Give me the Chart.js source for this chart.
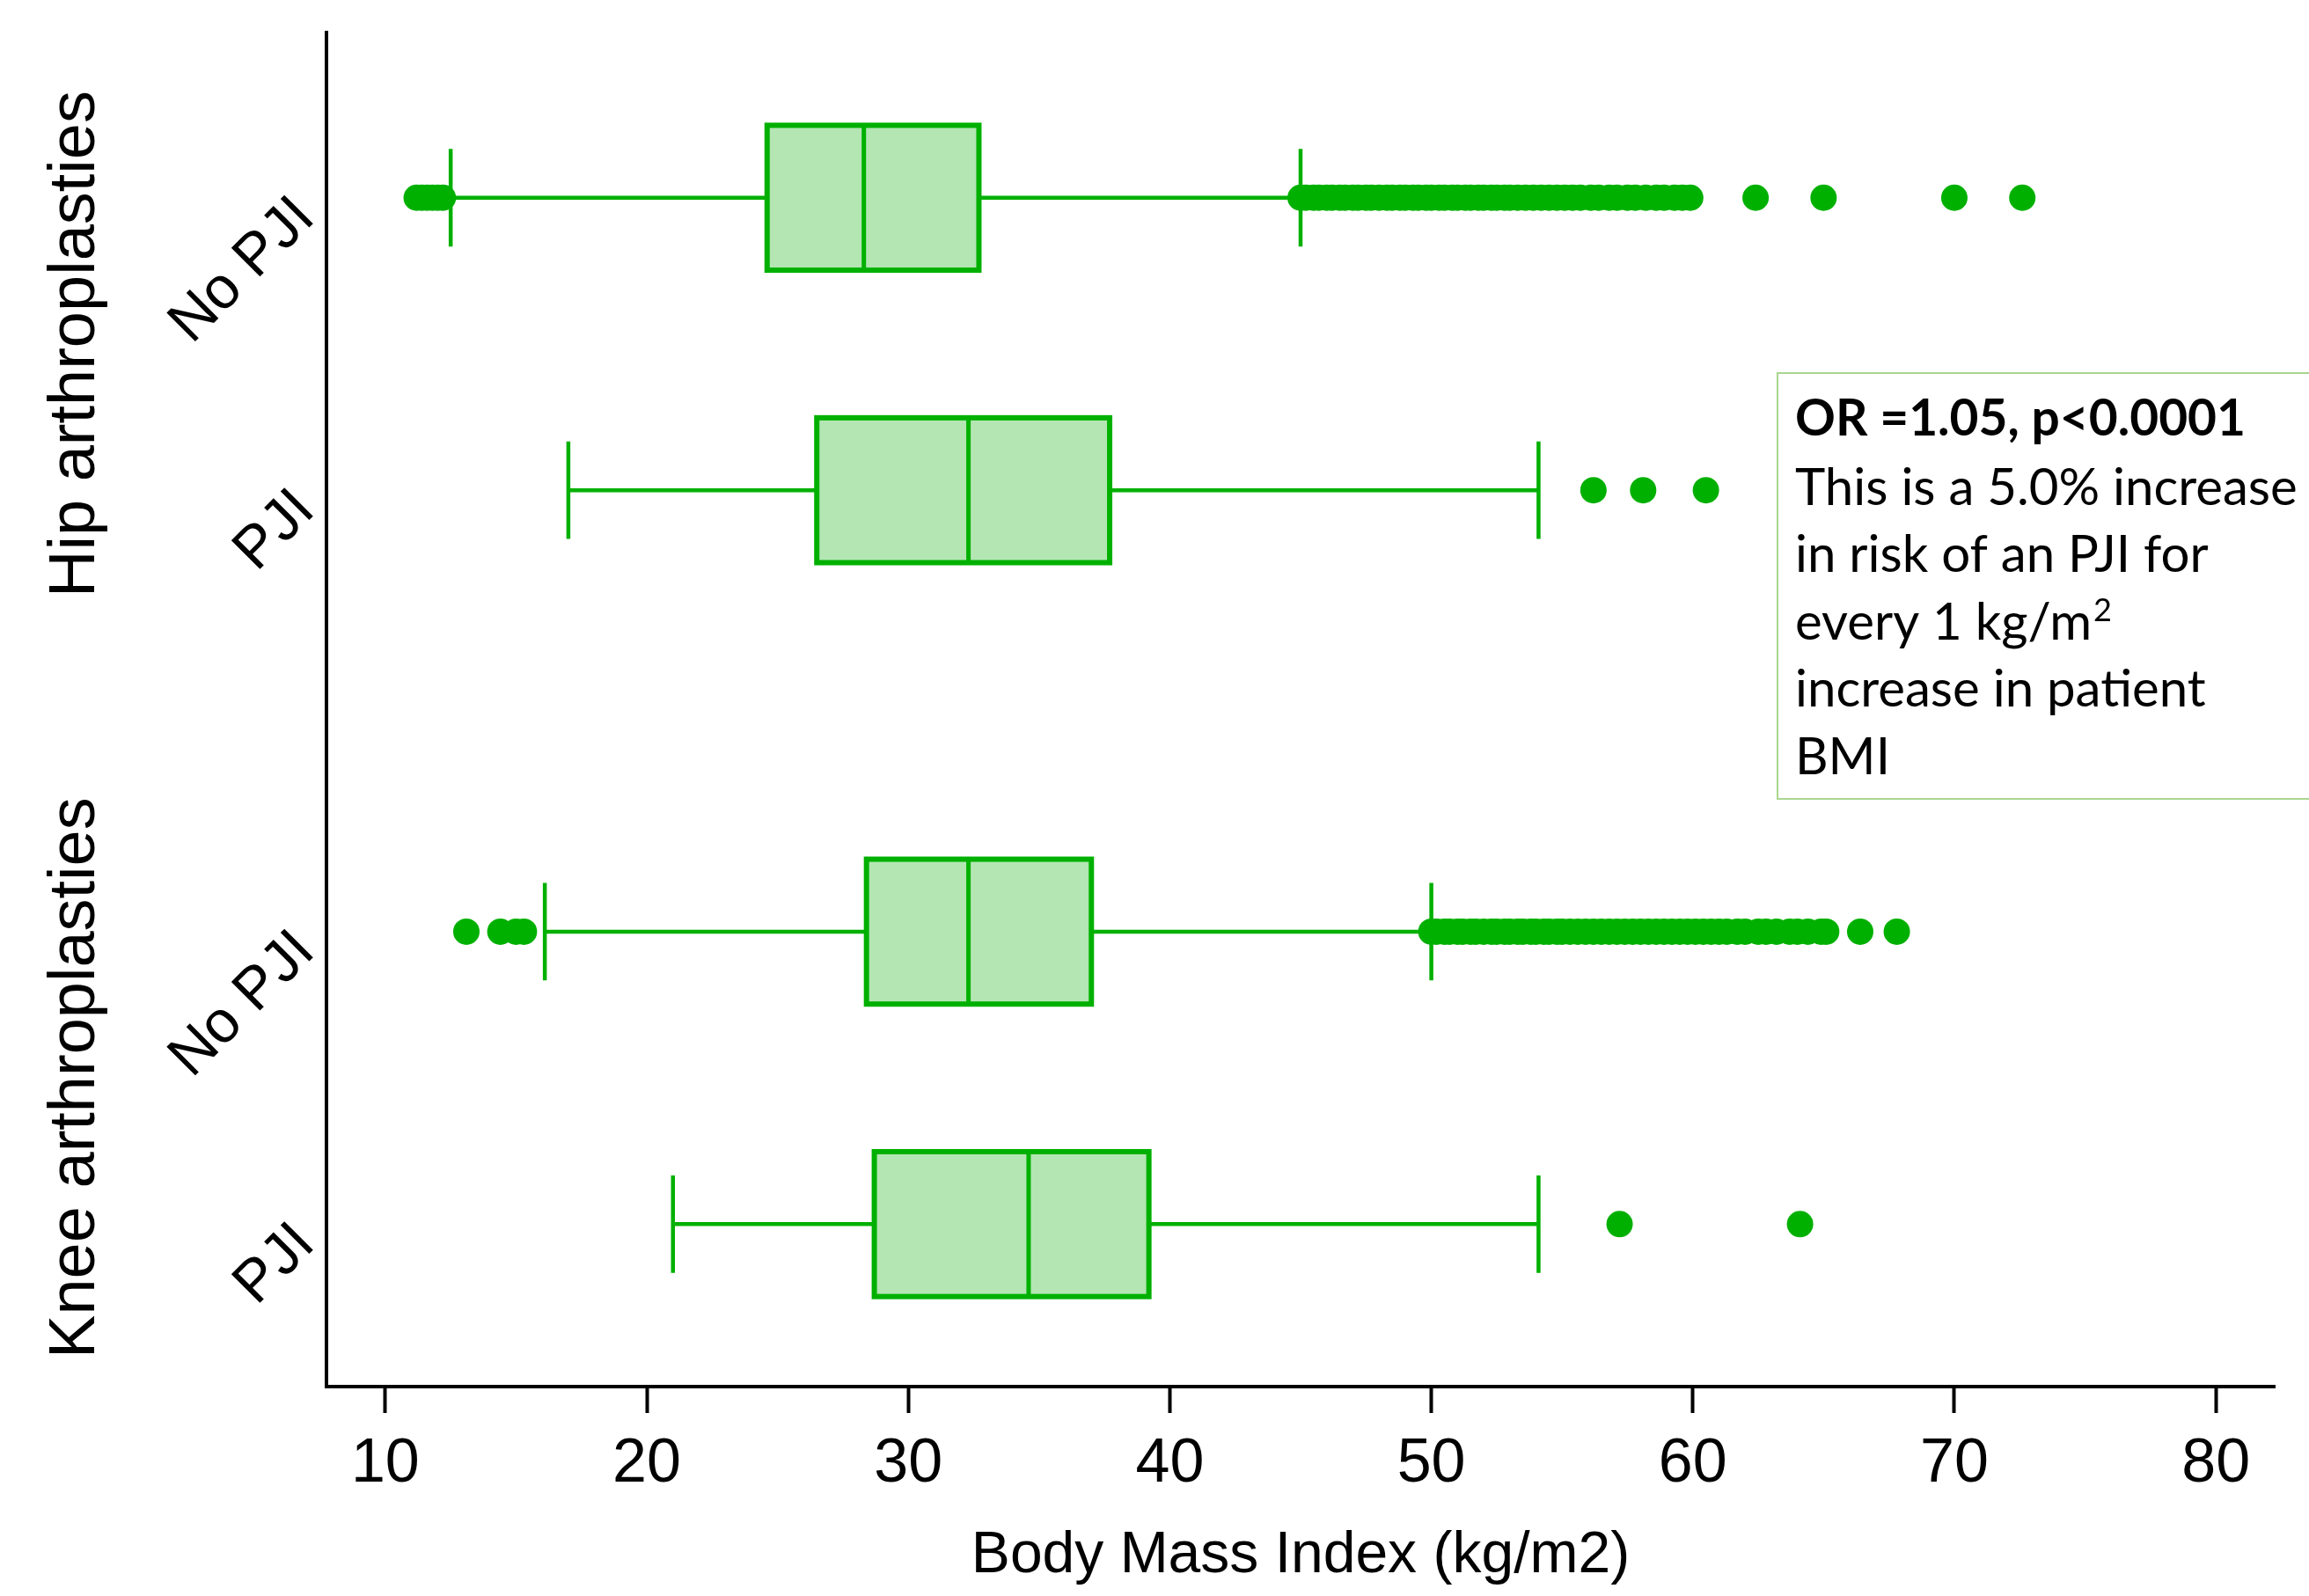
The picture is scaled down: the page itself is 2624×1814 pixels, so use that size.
<!DOCTYPE html>
<html>
<head>
<meta charset="utf-8">
<title>BMI by PJI status</title>
<script src="https://cdn.jsdelivr.net/npm/chart.js@4.4.1/dist/chart.umd.min.js"></script>
<style>
  html, body { margin: 0; padding: 0; background: #fff; }
  #wrap { width: 2624px; height: 1814px; }
</style>
</head>
<body>
<div id="wrap"><canvas id="bmiChart" width="2624" height="1814"></canvas></div>
<script>
// ---- data (BMI, kg/m2) ----
const groupLabels = ['Hip arthroplasties', 'Knee arthroplasties'];
const categories = ['No PJI', 'PJI', 'No PJI', 'PJI'];
const groupOf = [0, 0, 1, 1];

const lowerWhisker = [12.5, 17.0, 16.1, 21.0];
const quartile1 = [24.6, 26.5, 28.4, 28.7];
const medians = [28.3, 32.3, 32.3, 34.6];
const quartile3 = [32.7, 37.7, 37.0, 39.2];
const upperWhisker = [45.0, 54.1, 50.0, 54.1];

const outliersHipNoPJI = [11.2, 11.4, 11.6, 11.8, 12.0, 12.2,
  45.0, 45.2, 45.5, 45.7, 46.0, 46.2, 46.5, 46.7, 47.0, 47.2, 47.5, 47.7,
  48.0, 48.3, 48.5, 48.8, 49.0, 49.3, 49.5, 49.8, 50.0, 50.3, 50.5, 50.8,
  51.0, 51.3, 51.5, 51.8, 52.0, 52.3, 52.5, 52.8, 53.0, 53.3, 53.6, 53.9,
  54.2, 54.5, 54.8, 55.1, 55.4, 55.7, 56.1, 56.4, 56.8, 57.1, 57.5, 57.8,
  58.2, 58.6, 58.9, 59.3, 59.6, 59.9,
  62.4, 65.0, 70.0, 72.6];
const outliersHipPJI = [56.2, 58.1, 60.5];
const outliersKneeNoPJI = [13.1, 14.4, 15.0, 15.3,
  50.0, 50.2, 50.5, 50.7, 51.0, 51.2, 51.5, 51.7, 52.0, 52.3, 52.5, 52.8,
  53.0, 53.3, 53.5, 53.8, 54.0, 54.3, 54.5, 54.8, 55.0, 55.3, 55.6, 55.9,
  56.2, 56.5, 56.8, 57.1, 57.4, 57.7, 58.0, 58.3, 58.6, 58.9, 59.2, 59.5,
  59.8, 60.1, 60.4, 60.7, 61.0, 61.3, 61.7, 62.0, 62.5, 62.8, 63.2, 63.7,
  64.0, 64.4, 64.9, 65.1,
  66.4, 67.8];
const outliersKneePJI = [57.2, 64.1];
const outliers = [outliersHipNoPJI, outliersHipPJI, outliersKneeNoPJI, outliersKneePJI];

const xTicks = [10, 20, 30, 40, 50, 60, 70, 80];

const noteTitle = 'OR =1.05, p<0.0001';
const noteLines = ['This is a 5.0% increase', 'in risk of an PJI for', 'every 1 kg/m', 'increase in patient', 'BMI'];

// ---- layout / style ----
const rowPos = [1.22, 3.38, 6.64, 8.8];   // rows on the hidden y scale (0..10)
const boxHalf = 0.535;
const capHalf = 0.36;
const lineGreen = '#00b000';
const fillGreen = '#b3e6b3';
const axisFont = 'Liberation Sans, Arial, sans-serif';

const points = [];
outliers.forEach((list, i) => {
  list.forEach(v => points.push({ x: v, y: rowPos[i] }));
});

const boxPlotPlugin = {
  id: 'boxPlot',
  beforeDatasetsDraw(chart) {
    const { ctx, scales: { x, y } } = chart;
    ctx.save();
    ctx.strokeStyle = lineGreen;
    categories.forEach((c, i) => {
      const yc = y.getPixelForValue(rowPos[i]);
      const hb = Math.abs(y.getPixelForValue(rowPos[i] + boxHalf) - yc);
      const hc = Math.abs(y.getPixelForValue(rowPos[i] + capHalf) - yc);
      const xlw = x.getPixelForValue(lowerWhisker[i]);
      const xq1 = x.getPixelForValue(quartile1[i]);
      const xmd = x.getPixelForValue(medians[i]);
      const xq3 = x.getPixelForValue(quartile3[i]);
      const xuw = x.getPixelForValue(upperWhisker[i]);

      // whiskers + caps
      ctx.lineWidth = 4.5;
      ctx.beginPath();
      ctx.moveTo(xlw, yc); ctx.lineTo(xq1, yc);
      ctx.moveTo(xq3, yc); ctx.lineTo(xuw, yc);
      ctx.moveTo(xlw, yc - hc); ctx.lineTo(xlw, yc + hc);
      ctx.moveTo(xuw, yc - hc); ctx.lineTo(xuw, yc + hc);
      ctx.stroke();

      // box
      ctx.fillStyle = fillGreen;
      ctx.fillRect(xq1, yc - hb, xq3 - xq1, 2 * hb);
      ctx.lineWidth = 6;
      ctx.strokeRect(xq1, yc - hb, xq3 - xq1, 2 * hb);

      // median
      ctx.lineWidth = 5;
      ctx.beginPath();
      ctx.moveTo(xmd, yc - hb); ctx.lineTo(xmd, yc + hb);
      ctx.stroke();
    });
    ctx.restore();
  }
};

const labelsPlugin = {
  id: 'sideLabels',
  afterDraw(chart) {
    const { ctx, chartArea, scales: { y } } = chart;
    ctx.save();
    ctx.fillStyle = '#000';

    // rotated category labels
    ctx.font = '67px ' + axisFont;
    ctx.textAlign = 'right';
    ctx.textBaseline = 'middle';
    categories.forEach((c, i) => {
      const yc = y.getPixelForValue(rowPos[i]);
      ctx.save();
      ctx.translate(chartArea.left - 24, yc + 12);
      ctx.rotate(-Math.PI / 4);
      ctx.fillText(c, 0, 0);
      ctx.restore();
    });

    // group labels
    ctx.font = '74px ' + axisFont;
    ctx.textAlign = 'center';
    ctx.textBaseline = 'alphabetic';
    groupLabels.forEach((g, gi) => {
      const rows = rowPos.filter((p, i) => groupOf[i] === gi);
      const yc = (y.getPixelForValue(rows[0]) + y.getPixelForValue(rows[rows.length - 1])) / 2;
      ctx.save();
      ctx.translate(107, yc);
      ctx.rotate(-Math.PI / 2);
      ctx.fillText(g, 0, 0);
      ctx.restore();
    });

    // note box
    const bx = 2020, by = 424, bh = 484;
    ctx.fillStyle = '#fff';
    ctx.fillRect(bx, by, 700, bh);
    ctx.strokeStyle = '#a9d68f';
    ctx.lineWidth = 2;
    ctx.strokeRect(bx, by, 700, bh);

    const tx = 2040;
    ctx.fillStyle = '#000';
    ctx.textAlign = 'left';
    ctx.textBaseline = 'alphabetic';
    ctx.font = 'bold 100px Lato, sans-serif';
    const boldSize = 100 * 512 / ctx.measureText(noteTitle).width;
    ctx.font = 'bold ' + boldSize + 'px Lato, sans-serif';
    ctx.fillText(noteTitle, tx, 495);

    ctx.font = '100px Lato, sans-serif';
    const size = 100 * 571 / ctx.measureText(noteLines[0]).width;
    ctx.font = size + 'px Lato, sans-serif';
    const step = 76.5;
    noteLines.forEach((t, i) => {
      const by2 = 497 + step * (i + 1);
      ctx.fillText(t, tx, by2);
      if (i === 2) {
        const w = ctx.measureText(t).width;
        ctx.font = (size * 0.62) + 'px Lato, sans-serif';
        ctx.fillText('2', tx + w + 2, by2 - size * 0.36);
        ctx.font = size + 'px Lato, sans-serif';
      }
    });
    ctx.restore();
  }
};

new Chart(document.getElementById('bmiChart').getContext('2d'), {
  type: 'scatter',
  data: {
    datasets: [{
      label: 'Outliers',
      data: points,
      pointRadius: 15,
      pointBackgroundColor: lineGreen,
      pointBorderWidth: 0,
      pointHoverRadius: 15
    }]
  },
  options: {
    responsive: false,
    animation: false,
    devicePixelRatio: 1,
    layout: { padding: { top: 37, right: 39, left: 0, bottom: 0 } },
    plugins: {
      legend: { display: false },
      tooltip: { enabled: false }
    },
    scales: {
      x: {
        type: 'linear',
        min: 7.75,
        max: 82.25,
        afterBuildTicks: s => { s.ticks = xTicks.map(v => ({ value: v })); },
        afterFit: s => { s.height = 238; },
        grid: {
          drawOnChartArea: false,
          drawTicks: true,
          tickLength: 30,
          tickWidth: 4,
          tickColor: '#000'
        },
        border: { display: true, color: '#000', width: 4 },
        ticks: {
          color: '#000',
          padding: 17,
          maxRotation: 0,
          font: { family: axisFont, size: 70 }
        },
        title: {
          display: true,
          text: 'Body Mass Index (kg/m2)',
          color: '#000',
          font: { family: axisFont, size: 66 },
          padding: { top: 0, bottom: 6 }
        }
      },
      y: {
        type: 'linear',
        min: 0,
        max: 10,
        reverse: true,
        afterFit: s => { s.width = 371; },
        grid: { display: false },
        border: { display: true, color: '#000', width: 4 },
        ticks: { display: false }
      }
    }
  },
  plugins: [boxPlotPlugin, labelsPlugin]
});
</script>
</body>
</html>
